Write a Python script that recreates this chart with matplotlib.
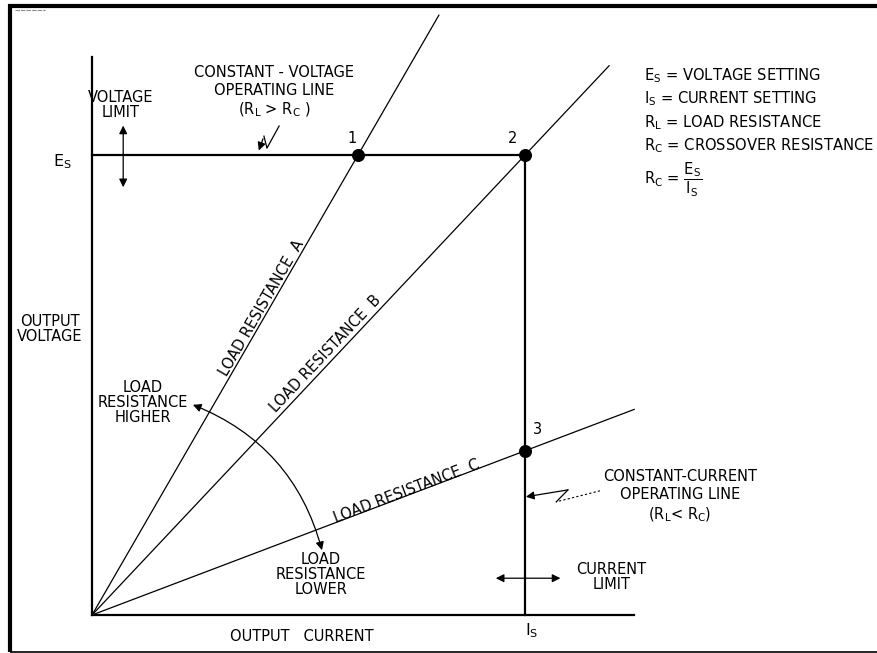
import matplotlib.pyplot as plt
import numpy as np
from matplotlib.lines import Line2D

# ---------------------------------------------------------------------
# values (Is = 1, Es = 1)
# ---------------------------------------------------------------------

current_setting = 1.0
voltage_setting = 1.0
load_names = ["A", "B", "C"]
load_slopes = [1.628, 1.0, 0.357]        # volts per amp of each load line
load_ends = [0.801, 1.194, 1.252]        # where each load line stops (current)
point_labels = ["1", "2", "3"]
axis_len_x = 1.252
axis_len_y = 1.213

legend_lines = [
    r"E$_\mathrm{S}$ = VOLTAGE SETTING",
    r"I$_\mathrm{S}$ = CURRENT SETTING",
    r"R$_\mathrm{L}$ = LOAD RESISTANCE",
    r"R$_\mathrm{C}$ = CROSSOVER RESISTANCE",
]

plt.rcParams['font.family'] = ['DejaVu Sans']
fs = 10.5

fig = plt.figure(figsize=(8.78, 6.53), dpi=100)
ax = fig.add_axes([0, 0, 1, 1])
ax.set_xlim(-0.2125, 1.815)
ax.set_ylim(-0.0826, 1.337)
ax.axis("off")

# frame: heavy top and left edge, thin bottom edge, open on the right
W, H = 878.0, 653.0
fig.lines.append(Line2D([8 / W, 1], [1 - 5.5 / H, 1 - 5.5 / H], transform=fig.transFigure,
                        color="black", lw=3.0, solid_capstyle="butt"))
fig.lines.append(Line2D([10 / W, 10 / W], [1 - 4 / H, 1 - 652 / H], transform=fig.transFigure,
                        color="black", lw=3.0, solid_capstyle="butt"))
fig.lines.append(Line2D([10 / W, 1], [1 - 651.5 / H, 1 - 651.5 / H], transform=fig.transFigure,
                        color="black", lw=1.2, solid_capstyle="butt"))
fig.lines.append(Line2D([15 / W, 45 / W], [1 - 9.5 / H, 1 - 9.5 / H], transform=fig.transFigure,
                        color="#888888", lw=0.8, ls=(0, (4, 1))))

# axes
ax.plot([0, axis_len_x], [0, 0], color="black", lw=1.6)
ax.plot([0, 0], [0, axis_len_y], color="black", lw=1.6)

# operating lines
ax.plot([0, current_setting], [voltage_setting, voltage_setting], color="black", lw=1.6)
ax.plot([current_setting, current_setting], [0, voltage_setting], color="black", lw=1.6)

# load lines and operating points
pts = []
for slope, end in zip(load_slopes, load_ends):
    ax.plot([0, end], [0, slope * end], color="black", lw=0.9)
    x_op = min(voltage_setting / slope, current_setting)
    pts.append((x_op, slope * x_op))
pts = np.array(pts)
ax.scatter(pts[:, 0], pts[:, 1], s=70, color="black", zorder=5)

ax.text(pts[0, 0] - 0.014, pts[0, 1] + 0.02, point_labels[0], fontsize=fs, ha="center", va="bottom")
ax.text(pts[1, 0] - 0.03, pts[1, 1] + 0.02, point_labels[1], fontsize=fs, ha="center", va="bottom")
ax.text(pts[2, 0] + 0.028, pts[2, 1] + 0.03, point_labels[2], fontsize=fs, ha="center", va="bottom")

# load line labels, turned along the lines
label_pos = [(0.392, 0.668), (0.540, 0.568), (0.727, 0.268)]
p0 = ax.transData.transform((0, 0))
for name, slope, (lx, ly) in zip(load_names, load_slopes, label_pos):
    p1 = ax.transData.transform((1, slope))
    ang = np.degrees(np.arctan2(p1[1] - p0[1], p1[0] - p0[0]))
    ax.text(lx, ly, "LOAD RESISTANCE  " + name, fontsize=fs, rotation=ang,
            ha="center", va="center", rotation_mode="anchor")

# axis texts
ax.text(-0.069, 0.985, r"E$_\mathrm{S}$", fontsize=fs + 1, ha="center", va="center")
ax.text(1.015, -0.035, r"I$_\mathrm{S}$", fontsize=fs + 1, ha="center", va="center")
ax.text(-0.097, 0.622, "OUTPUT\nVOLTAGE", fontsize=fs, ha="center", va="center", linespacing=1.0)
ax.text(0.485, -0.046, "OUTPUT   CURRENT", fontsize=fs, ha="center", va="center")

# voltage limit
ax.text(0.065, 1.109, "VOLTAGE\nLIMIT", fontsize=fs, ha="center", va="center", linespacing=1.05)
ax.annotate("", xy=(0.072, 0.924), xytext=(0.072, 1.07),
            arrowprops=dict(arrowstyle="<|-|>", color="black", lw=0.9, mutation_scale=12))

# constant voltage note
ax.text(0.420, 1.137, "CONSTANT - VOLTAGE\nOPERATING LINE\n" + r"(R$_\mathrm{L}$ > R$_\mathrm{C}$ )",
        fontsize=fs, ha="center", va="center", linespacing=1.25)
zx = [0.432, 0.404, 0.397, 0.383]
zy = [1.063, 1.015, 1.041, 1.004]
ax.plot(zx[:-1], zy[:-1], color="black", lw=0.9)
ax.annotate("", xy=(zx[-1], zy[-1]), xytext=(zx[-2], zy[-2]),
            arrowprops=dict(arrowstyle="-|>", color="black", lw=0.9, mutation_scale=12))

# legend on the right
for i, line in enumerate(legend_lines):
    ax.text(1.275, 1.172 - i * 0.0503, line, fontsize=10.6, ha="left", va="center")
ax.text(1.275, 0.946, r"R$_\mathrm{C}$ = $\dfrac{\mathrm{E_S}}{\mathrm{I_S}}$",
        fontsize=10.6, ha="left", va="center")

# load resistance higher / lower arc
ax.annotate("", xy=(0.233, 0.457), xytext=(0.531, 0.141),
            arrowprops=dict(arrowstyle="<|-|>", color="black", lw=0.9, mutation_scale=12,
                            connectionstyle="arc3,rad=0.25", shrinkA=0, shrinkB=0))
ax.text(0.118, 0.463, "LOAD\nRESISTANCE\nHIGHER", fontsize=fs, ha="center", va="center", linespacing=1.0)
ax.text(0.529, 0.087, "LOAD\nRESISTANCE\nLOWER", fontsize=fs, ha="center", va="center", linespacing=1.0)

# constant current note
ax.text(1.358, 0.257, "CONSTANT-CURRENT\nOPERATING LINE\n" + r"(R$_\mathrm{L}$< R$_\mathrm{C}$)",
        fontsize=fs, ha="center", va="center", linespacing=1.25)
cx = [1.173, 1.072, 1.099, 1.002]
cy = [0.270, 0.246, 0.272, 0.257]
ax.plot(cx[:2], cy[:2], color="black", lw=0.8, ls=(0, (2, 2)))
ax.plot(cx[1:3], cy[1:3], color="black", lw=0.9)
ax.annotate("", xy=(cx[3], cy[3]), xytext=(cx[2], cy[2]),
            arrowprops=dict(arrowstyle="-|>", color="black", lw=0.9, mutation_scale=12,
                            shrinkA=0, shrinkB=0))

# current limit
ax.text(1.199, 0.083, "CURRENT\nLIMIT", fontsize=fs, ha="center", va="center", linespacing=1.05)
ax.annotate("", xy=(0.926, 0.080), xytext=(1.088, 0.080),
            arrowprops=dict(arrowstyle="<|-|>", color="black", lw=0.9, mutation_scale=12))

fig.savefig("out.png", dpi=100)
